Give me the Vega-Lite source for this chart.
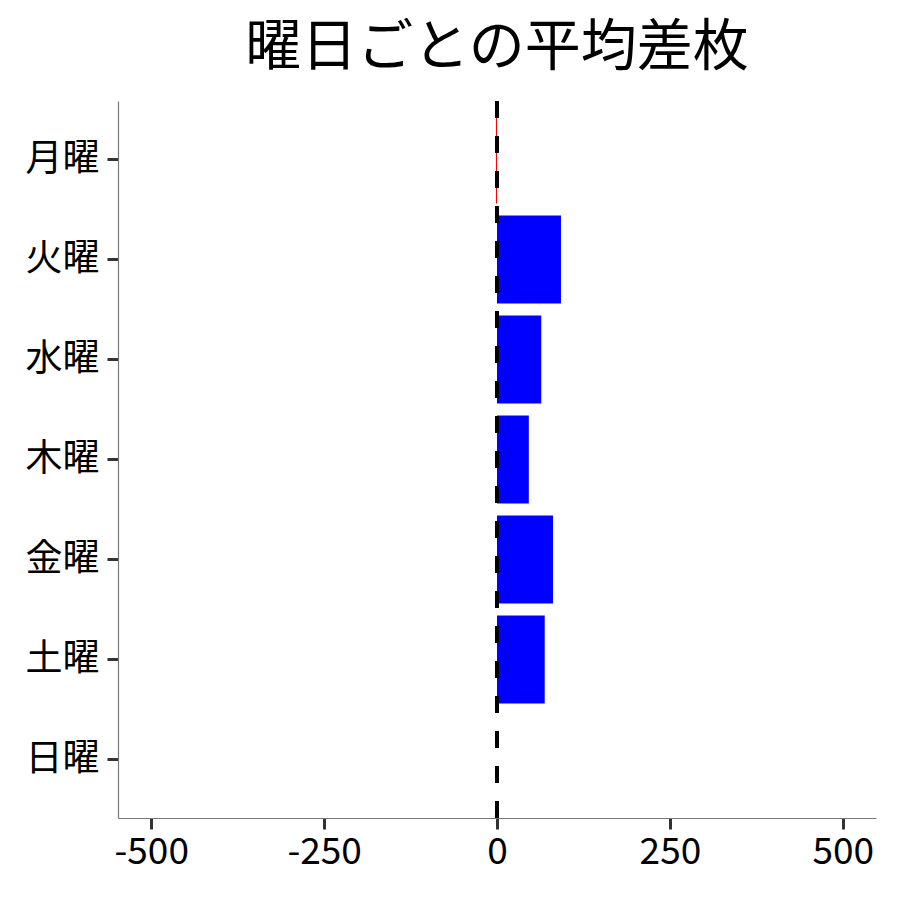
{
  "$schema": "https://vega.github.io/schema/vega-lite/v6.json",
  "width": 758,
  "height": 717,
  "autosize": "none",
  "padding": {"left": 118, "top": 101, "right": 24, "bottom": 82},
  "title": {
    "text": "曜日ごとの平均差枚",
    "fontSize": 56,
    "font": "Noto Sans CJK JP",
    "fontWeight": "normal",
    "color": "black",
    "anchor": "middle",
    "offset": 22
  },
  "data": {
    "values": [
      {"day": "月曜", "value": -1.5},
      {"day": "火曜", "value": 92.5},
      {"day": "水曜", "value": 64},
      {"day": "木曜", "value": 46},
      {"day": "金曜", "value": 81},
      {"day": "土曜", "value": 69},
      {"day": "日曜", "value": 0}
    ]
  },
  "layer": [
    {
      "mark": "bar",
      "encoding": {
        "y": {
          "field": "day",
          "type": "nominal",
          "sort": ["月曜", "火曜", "水曜", "木曜", "金曜", "土曜", "日曜"],
          "scale": {"paddingInner": 0.12, "paddingOuter": 0.145},
          "axis": {"title": null, "labelPadding": 8}
        },
        "x": {
          "field": "value",
          "type": "quantitative",
          "scale": {"domain": [-548, 548], "nice": false, "zero": false},
          "axis": {"title": null, "values": [-500, -250, 0, 250, 500], "labelExpr": "'' + datum.value", "labelPadding": 5}
        },
        "color": {
          "condition": {"test": "datum.value < 0", "value": "red"},
          "value": "blue"
        }
      }
    },
    {
      "mark": {"type": "rule", "color": "black", "strokeWidth": 4, "strokeDash": [17, 18]},
      "encoding": {"x": {"datum": 0}}
    }
  ],
  "config": {
    "view": {"stroke": null},
    "font": "Noto Sans CJK JP",
    "axis": {
      "grid": false,
      "domainColor": "#777777",
      "domainWidth": 1.2,
      "tickColor": "#333333",
      "tickWidth": 3,
      "tickSize": 11,
      "labelFontSize": 37,
      "labelColor": "black",
      "labelFont": "Noto Sans CJK JP",
      "labelPadding": 8
    }
  }
}
